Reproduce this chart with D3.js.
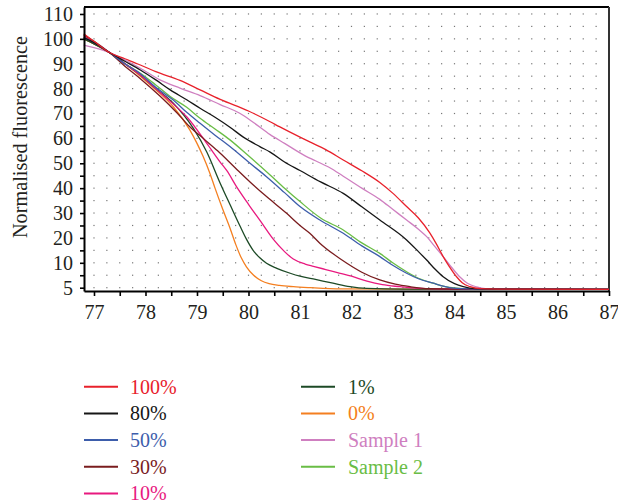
<!DOCTYPE html>
<html>
<head>
  <meta charset="UTF-8">
  <style>
    body { margin: 0; background: #fff; }
    svg { display: block; font-family: "Liberation Serif", "DejaVu Serif", serif; }
  </style>
</head>
<body>
<svg></svg>
<script src="https://d3js.org/d3.v7.min.js"></script>
<script>

let width = 618, height = 503;

// melt curves: [temperature, normalised fluorescence]
let s100 = [[76.8,102],[77.0,99],[77.3,94.5],[77.6,92],[77.9,89.5],[78.2,86.8],[78.67,83.3],[79.06,79.5],[79.45,75.7],[80.0,71],[80.42,66.7],[80.6,64.7],[81.0,60.5],[81.2,58.5],[81.5,55.5],[81.84,51.3],[82.2,47],[82.55,42.3],[82.8,38],[83.07,32.6],[83.3,28],[83.52,22],[83.65,17.5],[83.78,12.5],[83.9,8.5],[84.04,4.4],[84.15,2],[84.3,0.4],[84.5,-0.4],[85,-0.6],[87,-0.7]];
let s80 = [[76.8,100.5],[77.0,98.5],[77.3,94.5],[77.6,91],[77.9,87.5],[78.2,83.5],[78.48,79.5],[78.8,75.5],[79.06,72.1],[79.35,68.5],[79.64,64.5],[79.9,60.5],[80.22,56.7],[80.42,54.5],[80.7,50.5],[81.0,47.1],[81.4,42.5],[81.84,37.9],[82.2,32.5],[82.55,27.2],[83.07,19.2],[83.3,14.5],[83.46,11.1],[83.62,7.5],[83.78,4.4],[84.0,1.6],[84.17,0.4],[84.4,-0.4],[85,-0.6],[87,-0.7]];
let s50 = [[76.8,100.5],[77.0,98.5],[77.3,94.5],[77.6,90],[77.9,86],[78.2,80.5],[78.54,75.4],[78.8,70.5],[79.06,66.1],[79.35,61.3],[79.64,56.7],[80.0,50.5],[80.35,44.6],[80.7,38.2],[81.0,32.6],[81.4,27],[81.84,21.9],[82.2,16.8],[82.55,12.5],[82.8,9],[83.07,5.8],[83.3,3.6],[83.59,1.8],[83.8,0.5],[83.98,-0.2],[84.3,-0.5],[85,-0.6],[87,-0.7]];
let s30 = [[76.8,101.5],[77.0,99],[77.3,94.5],[77.6,89],[77.9,84],[78.28,77],[78.6,70.5],[78.86,64.7],[79.15,59.5],[79.4,55],[79.75,48],[80.03,42.5],[80.35,36.6],[80.74,29.9],[81.0,25],[81.19,21.9],[81.39,17.8],[81.65,13.5],[81.91,9.8],[82.2,6.2],[82.55,3.1],[82.85,1.4],[83.14,0.4],[83.5,-0.4],[84,-0.6],[87,-0.7]];
let s10 = [[76.8,101],[77.0,98.5],[77.3,94.5],[77.6,90],[77.9,85.5],[78.2,80],[78.5,74.5],[78.8,68.7],[79.19,58],[79.45,50.5],[79.58,47],[79.77,40.5],[80.0,33.5],[80.24,26.5],[80.48,19.5],[80.7,14.5],[80.87,11.5],[81.1,9.5],[81.26,8.6],[81.5,7.3],[81.78,5.8],[82.0,4.6],[82.3,2.6],[82.6,1.2],[82.94,0.4],[83.3,-0.3],[84,-0.6],[87,-0.7]];
let s1 = [[76.8,100],[77.0,98],[77.3,94.5],[77.6,90],[77.9,85.5],[78.2,80],[78.54,74.1],[78.93,64],[79.19,54.5],[79.45,42],[79.65,33],[79.83,25],[79.96,19.5],[80.09,15],[80.22,12],[80.35,9.8],[80.55,7.8],[80.81,5.8],[81.0,4.6],[81.3,3.3],[81.64,1.8],[81.97,0.4],[82.3,-0.3],[83,-0.6],[87,-0.7]];
let s0 = [[76.8,100],[77.0,98],[77.3,94.5],[77.6,90],[77.9,85],[78.2,79.5],[78.54,72.7],[78.86,63.4],[79.0,58],[79.12,52.7],[79.25,46],[79.35,40],[79.5,31.5],[79.64,24],[79.75,17.5],[79.86,12],[79.96,8.4],[80.1,5],[80.25,2.8],[80.4,1.6],[80.6,0.9],[80.87,0.4],[81.2,0],[81.8,-0.5],[83,-0.6],[87,-0.7]];
let sample1 = [[76.8,97.5],[77.0,96.5],[77.3,94.5],[77.6,91.5],[77.9,88.2],[78.28,83.5],[78.67,80.2],[79.06,77.2],[79.45,73.6],[79.83,70.1],[80.09,66.5],[80.42,61.5],[80.7,58],[81.1,53],[81.3,51],[81.58,48.2],[81.84,44.8],[82.2,40],[82.55,35.5],[82.8,31.5],[83.07,27.2],[83.3,23.5],[83.46,20.5],[83.6,17],[83.78,12.5],[83.95,8],[84.1,4.4],[84.25,1.8],[84.43,0.3],[84.6,-0.4],[85,-0.6],[87,-0.7]];
let sample2 = [[76.8,100],[77.0,98],[77.3,94.5],[77.6,90],[77.9,86.2],[78.2,81.5],[78.48,76.8],[78.8,72.5],[79.06,68.1],[79.35,63.8],[79.64,59.4],[80.0,53],[80.42,45.3],[80.7,40],[81.0,34.6],[81.4,28],[81.84,23.2],[82.2,18],[82.55,13.8],[82.8,10],[83.07,6.4],[83.3,3.8],[83.59,1.8],[83.8,0.5],[84.04,-0.2],[84.3,-0.5],[85,-0.6],[87,-0.7]];

let seriesNames = ["100%", "80%", "50%", "30%", "10%", "1%", "0%", "Sample 1", "Sample 2"];
let seriesData = [s100, s80, s50, s30, s10, s1, s0, sample1, sample2];
let seriesColors = ["#e8212b", "#161616", "#3d5dab", "#7a1c1e", "#e8197f", "#1d4a26", "#f47f20", "#cf7fc0", "#69bd45"];

let xTicks = d3.range(77, 87.01, 0.5);
let yTicks = d3.range(0, 110.01, 5);
let yLabels = {0: "5", 10: "10", 20: "20", 30: "30", 40: "40", 50: "50", 60: "60", 70: "70", 80: "80", 90: "90", 100: "100", 110: "110"};

let svg = d3.select("svg")
    .attr("width", width)
    .attr("height", height);

let x = d3.scaleLinear().domain([76.806, 87]).range([84, 609]);
let y = d3.scaleLinear().domain([-1.33, 112.8]).range([291, 7]);

// dotted background grid
let dots = [];
d3.range(77, 86.8, 0.25).forEach(t => {
    yTicks.forEach(v => dots.push([t, v]));
});
svg.append("g")
    .selectAll("rect")
    .data(dots)
    .enter()
    .append("rect")
    .attr("x", d => x(d[0]) - 0.6)
    .attr("y", d => y(d[1]) - 0.6)
    .attr("width", 1.2)
    .attr("height", 1.2)
    .attr("fill", "#777");

// top and right frame
svg.append("line")
    .attr("x1", 84).attr("x2", 609)
    .attr("y1", 7).attr("y2", 7)
    .attr("stroke", "#000").attr("stroke-width", 2);
svg.append("line")
    .attr("x1", 609).attr("x2", 609)
    .attr("y1", 7).attr("y2", 291)
    .attr("stroke", "#333").attr("stroke-width", 2);

// curves (drawn in reverse so 100% ends on top)
let line = d3.line()
    .x(d => x(d[0]))
    .y(d => y(d[1]))
    .curve(d3.curveMonotoneX);

let order = d3.range(seriesData.length).reverse();
svg.append("g")
    .selectAll("path")
    .data(order)
    .enter()
    .append("path")
    .attr("d", i => line(seriesData[i]))
    .attr("fill", "none")
    .attr("stroke", i => seriesColors[i])
    .attr("stroke-width", 1.3);

// axes
let yAxis = svg.append("g")
    .attr("transform", "translate(84,0)")
    .call(d3.axisLeft(y)
        .tickValues(yTicks)
        .tickSize(4)
        .tickPadding(7)
        .tickSizeOuter(0)
        .tickFormat(d => yLabels[d] || ""));

let xAxis = svg.append("g")
    .attr("transform", "translate(0,291)")
    .call(d3.axisBottom(x)
        .tickValues(xTicks)
        .tickSize(5)
        .tickPadding(9)
        .tickSizeOuter(0)
        .tickFormat(d => Number.isInteger(d) ? d : ""));

[yAxis, xAxis].forEach(a => {
    a.select(".domain").attr("stroke", "#000").attr("stroke-width", 2);
    a.selectAll(".tick line").attr("stroke", "#000").attr("stroke-width", 1.6);
    a.selectAll("text")
        .attr("font-family", "Liberation Serif, serif")
        .attr("font-size", 20)
        .attr("fill", "#231f20");
});

svg.append("text")
    .attr("transform", "translate(27,137) rotate(-90)")
    .attr("text-anchor", "middle")
    .attr("font-size", 20.3)
    .attr("fill", "#231f20")
    .text("Normalised fluorescence");

// legend
let legend = svg.append("g")
    .selectAll("g")
    .data(seriesNames)
    .enter()
    .append("g")
    .attr("transform", (d, i) => {
        let col = i < 5 ? 0 : 1;
        let row = i < 5 ? i : i - 5;
        return "translate(" + (col ? 301 : 84) + "," + (386.7 + row * 26.7) + ")";
    });

legend.append("line")
    .attr("x1", 0).attr("x2", 34)
    .attr("y1", 0).attr("y2", 0)
    .attr("stroke", (d, i) => seriesColors[i])
    .attr("stroke-width", 2);

legend.append("text")
    .attr("x", (d, i) => i < 5 ? 46 : 47)
    .attr("y", 6.8)
    .attr("font-size", 20)
    .attr("fill", (d, i) => seriesColors[i])
    .text(d => d);

</script>
</body>
</html>
